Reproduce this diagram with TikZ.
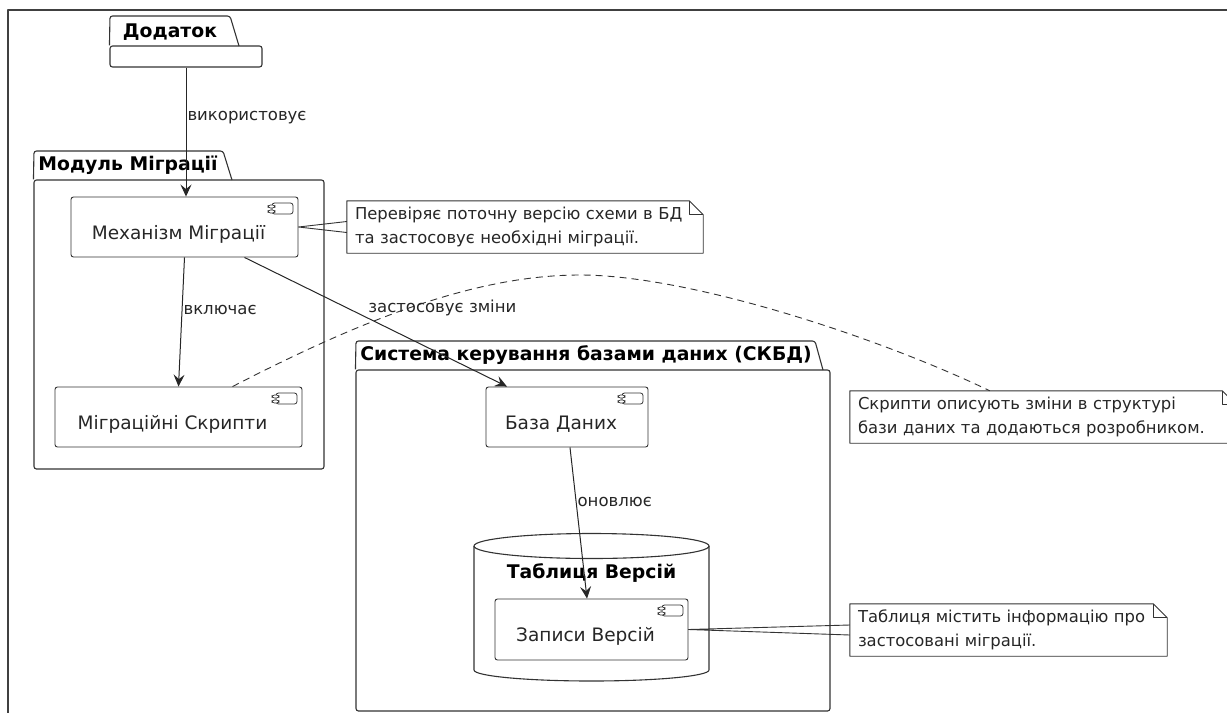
\documentclass[tikz,border=0pt]{standalone}
\usepackage{fontspec}
\setmainfont{DejaVu Sans}
\usetikzlibrary{arrows.meta}

\begin{document}
\begin{tikzpicture}[x=1pt, y=-1pt, line join=round,
    pkg/.style={draw=black!80, line width=1.1pt, rounded corners=2.5pt, inner sep=0pt},
    pkgtitle/.style={font=\bfseries\fontsize{18.8}{22}\selectfont, inner sep=0pt},
    comp/.style={draw=black!80, line width=0.9pt, rounded corners=2.5pt, inner sep=0pt,
      path picture={
        \draw[line width=0.8pt] ([shift={(-26pt,-6pt)}]path picture bounding box.north east) rectangle ++(21pt,-11pt);
        \foreach \dy in {-8pt,-13pt}
          \draw[line width=0.7pt, fill=white] ([shift={(-30pt,\dy)}]path picture bounding box.north east) rectangle ++(7pt,-3pt);
      }},
    ctext/.style={font=\fontsize{18.5}{22}\selectfont, text=black!85, xshift=-6pt, yshift=-7pt},
    lbl/.style={font=\fontsize{16.5}{19}\selectfont, text=black!85, inner sep=1pt, anchor=west},
    note/.style={inner xsep=8pt, inner ysep=0pt, align=left, font=\fontsize{16.4}{24}\selectfont, text=black!85},
    noteline/.style={draw=black!80, line width=0.9pt},
    arr/.style={-{Stealth[length=12pt, width=11pt, inset=4.5pt]}, line width=1pt, draw=black!85},
  ]
  \useasboundingbox (0,0) rectangle (1227,713);
  \clip (0,0) rectangle (1227,713);

  % frame
  \draw[line width=1.2pt, black!75] (1227,10) -- (8,10) -- (8,713);

  % application package
  \node[pkg, minimum width=152pt, minimum height=21pt] (app) at (186,56.5) {};
  \draw[pkg] (app.north west) -- (110,16) -- (230,16) -- (239,46);
  \node[pkgtitle] (appT) at (170,32) {Додаток};

  % migration module
  \node[pkg, minimum width=290pt, minimum height=289pt] (modB) at (179,324.5) {};
  \draw[pkg] (modB.north west) -- (34,151) -- (223,151) -- (232,180);
  \node[pkgtitle] (modT) at (128,165) {Модуль Міграції};
  \node[comp, minimum width=227pt, minimum height=60pt,
    label={[ctext, name=mechT]center:Механізм Міграції}] (mech) at (184.5,227) {};
  \node[comp, minimum width=247pt, minimum height=60pt,
    label={[ctext, name=scriptsT]center:Міграційні Скрипти}] (scripts) at (178.5,417) {};

  % dbms package
  \node[pkg, minimum width=474pt, minimum height=341pt] (dbms) at (593,540.5) {};
  \draw[pkg] (dbms.north west) -- (356,341) -- (815,341) -- (823,370);
  \node[pkgtitle] (dbmsT) at (586,355) {Система керування базами даних (СКБД)};
  \node[comp, minimum width=162pt, minimum height=60pt,
    label={[ctext, name=dbT]center:База Даних}] (db) at (567,417) {};

  % versions table (cylinder)
  \draw[pkg, fill=white, rounded corners=0pt] (474,546) -- (474,670)
    arc[start angle=180, end angle=360, x radius=117.5pt, y radius=11pt] -- (709,546)
    arc[start angle=0, end angle=180, x radius=117.5pt, y radius=12.5pt] -- cycle;
  \draw[pkg, rounded corners=0pt] (474,546)
    arc[start angle=180, end angle=360, x radius=117.5pt, y radius=12.5pt];
  \node[pkgtitle] (tblT) at (591.5,573) {Таблиця Версій};
  \node[comp, minimum width=193pt, minimum height=61pt,
    label={[ctext, name=recT]center:Записи Версій}] (rec) at (591.5,629.5) {};

  % notes
  \node[note, text width=340pt, minimum height=52pt] (noteA) at (525,227)
    {Перевіряє поточну версію схеми в БД\\та застосовує необхідні міграції.};
  \node[note, text width=370pt, minimum height=52pt] (noteB) at (1043,417)
    {Скрипти описують зміни в структурі\\бази даних та додаються розробником.};
  \node[note, text width=301pt, minimum height=52pt] (noteC) at (1008.5,630)
    {Таблиця містить інформацію про\\застосовані міграції.};
  \foreach \n in {noteA,noteB,noteC}{
    \draw[noteline] (\n.north west) -- ([xshift=-14pt]\n.north east) -- ([yshift=-14pt]\n.north east)
      -- (\n.south east) -- (\n.south west) -- cycle;
    \draw[noteline] ([xshift=-14pt]\n.north east) |- ([yshift=-14pt]\n.north east);
  }
  \draw[noteline] ([yshift=5.5pt]noteA.west) -- (mech.east) -- ([yshift=-5.5pt]noteA.west);
  \draw[noteline] ([yshift=5pt]noteC.west) -- (rec.east) -- ([yshift=-5pt]noteC.west);
  \draw[noteline, dash pattern=on 7pt off 5pt] ([xshift=54pt]scripts.north)
    .. controls (352,325) and (470,275) .. (580,275)
    .. controls (690,275) and (880,338) .. ([xshift=140pt]noteB.north west);

  % connectors
  \draw[arr] (app.south) -- node[lbl, pos=0.39] (lUse) {використовує} (app.south |- mech.north);
  \draw[arr] (mech.south) -- node[lbl, pos=0.41] (lIncl) {включає} (scripts.north);
  \draw[arr] ([xshift=60pt]mech.south) -- node[lbl, pos=0.39, xshift=20pt] (lApply) {застосовує зміни} ([xshift=-60pt]db.north);
  \draw[arr] ([xshift=3pt]db.south) -- node[lbl, pos=0.36] (lUpd) {оновлює} ([xshift=-4.5pt]rec.north);
\end{tikzpicture}
\end{document}
